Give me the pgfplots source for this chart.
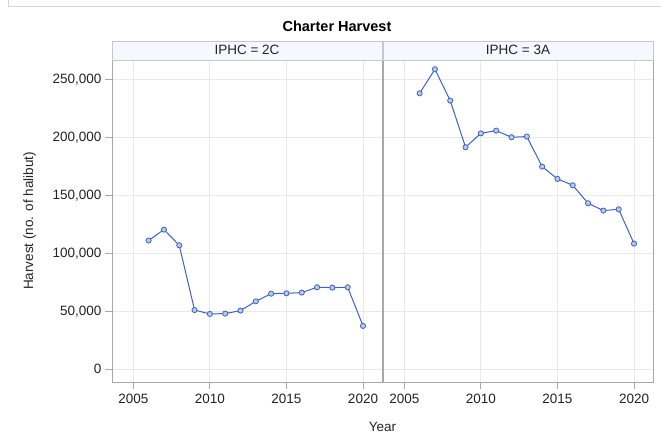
\documentclass[border=0pt]{standalone}
\usepackage{fontspec}
\setmainfont{Liberation Sans}
\usepackage{pgfplots}
\pgfplotsset{compat=1.18}
\definecolor{series}{RGB}{62,98,190}
\definecolor{gridc}{RGB}{233,233,233}
\definecolor{framec}{RGB}{165,168,172}
\definecolor{outerc}{RGB}{212,212,212}
\definecolor{stripfill}{RGB}{246,248,255}
\definecolor{stripline}{RGB}{200,200,200}
\definecolor{txt}{RGB}{35,35,35}

\pgfplotstableread{
year harvest
2006 111000
2007 120400
2008 106900
2009 51100
2010 47700
2011 48000
2012 50600
2013 58600
2014 65200
2015 65500
2016 66100
2017 70700
2018 70400
2019 70700
2020 37400
}\twoC

\pgfplotstableread{
year harvest
2006 237900
2007 258600
2008 231600
2009 191400
2010 203400
2011 205700
2012 200000
2013 200600
2014 174700
2015 164100
2016 158600
2017 143100
2018 136800
2019 137900
2020 108300
}\threeA

\pgfplotsset{panel/.style={
  anchor=south west, scale only axis, width=270pt, height=322pt,
  xmin=2003.61, xmax=2021.24, ymin=-10950, ymax=266600,
  xtick={2005,2010,2015,2020}, xticklabels={2005,2010,2015,2020},
  ytick={0,50000,100000,150000,200000,250000},
  yticklabels={0,{50,000},{100,000},{150,000},{200,000},{250,000}},
  grid=major, major grid style={gridc, line width=1pt},
  axis line style={framec, line width=1pt},
  tick style={framec, line width=0.8pt},
  major tick length=7pt, tick align=outside, xtick pos=bottom, ytick pos=left,
  tick label style={font=\fontsize{13.5}{16}\selectfont, text=txt},
  xticklabel style={yshift=-2pt},
  scaled y ticks=false, scaled x ticks=false,
},
ser/.style={color=series, line width=1pt, mark=*, mark size=2.6pt,
    mark options={draw=series, fill=series!35, line width=0.8pt, solid}},
}

\begin{document}
\begin{tikzpicture}
\useasboundingbox (0pt,0pt) rectangle (661pt,442pt);
\draw[outerc, line width=1pt] (8pt,442pt) -- (8pt,435pt) -- (661pt,435pt);

\begin{axis}[panel, at={(112pt,60pt)}]
\addplot[ser] table[x=year,y=harvest] {\twoC};
\end{axis}

\begin{axis}[panel, at={(383pt,60pt)}, yticklabels={}, ytick style={draw=none}]
\addplot[ser] table[x=year,y=harvest] {\threeA};
\end{axis}

\draw[stripline, fill=stripfill, line width=0.8pt] (112pt,382pt) rectangle (382pt,401pt);
\draw[stripline, fill=stripfill, line width=0.8pt] (383pt,382pt) rectangle (653pt,401pt);
\node[anchor=base, text=txt, font=\fontsize{13.5}{16}\selectfont] at (247pt,387pt) {IPHC = 2C};
\node[anchor=base, text=txt, font=\fontsize{13.5}{16}\selectfont] at (518pt,387pt) {IPHC = 3A};

\node[anchor=base, text=black, font=\bfseries\fontsize{14.5}{17}\selectfont] at (337pt,410pt) {Charter Harvest};
\node[anchor=base, rotate=90, text=txt, font=\fontsize{13.5}{16}\selectfont] at (33pt,221pt) {Harvest (no. of halibut)};
\node[anchor=base, text=txt, font=\fontsize{13.5}{16}\selectfont] at (382.5pt,11pt) {Year};
\end{tikzpicture}
\end{document}
